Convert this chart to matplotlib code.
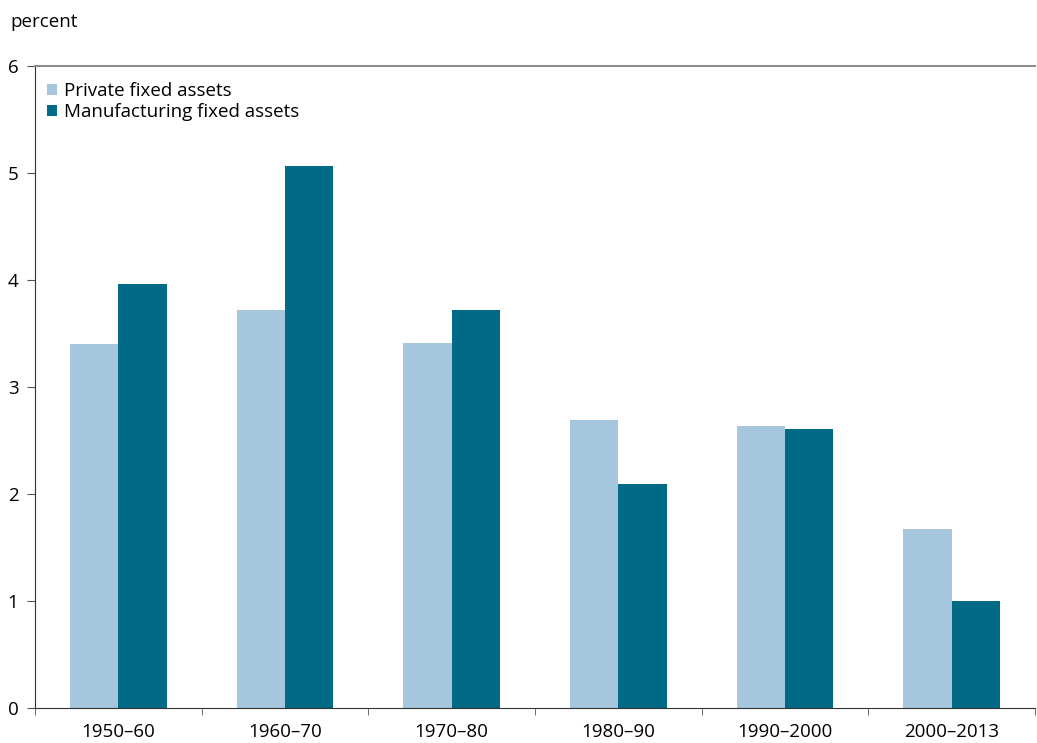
import numpy as np
import matplotlib.pyplot as plt

periods = ['1950–60', '1960–70', '1970–80', '1980–90', '1990–2000', '2000–2013']
private_assets = [3.40, 3.72, 3.41, 2.69, 2.64, 1.67]
manuf_assets = [3.96, 5.07, 3.72, 2.09, 2.61, 1.00]

light = '#a5c6dc'
dark = '#006a87'

plt.rcParams['font.family'] = ['Open Sans', 'DejaVu Sans']

fig = plt.figure(figsize=(10.37, 7.43), dpi=100)
ax = fig.add_axes([35/1037, 35/743, 1000/1037, 642/743])

x = np.arange(len(periods))
w = 0.29
ax.bar(x - w/2, private_assets, w, color=light, label='Private fixed assets')
ax.bar(x + w/2, manuf_assets, w, color=dark, label='Manufacturing fixed assets')

ax.set_xlim(-0.5, len(periods) - 0.5)
ax.set_ylim(0, 6)
ax.set_yticks(range(7))
ax.set_xticks(x)
ax.set_xticklabels(periods)
ax.set_xticks(np.arange(len(periods) + 1) - 0.5, minor=True)
ax.tick_params(axis='x', which='major', length=0, pad=11, labelsize=13.5)
ax.tick_params(axis='x', which='minor', length=5, color='#555555', direction='out')
ax.tick_params(axis='y', length=6, labelsize=13.5, pad=6, color='#555555')

ax.spines['right'].set_visible(False)
ax.spines['top'].set_color('#8c8c8c')
ax.spines['top'].set_linewidth(1.5)
ax.spines['left'].set_color('#333333')
ax.spines['bottom'].set_color('#333333')

ax.legend(loc='upper left', frameon=False, fontsize=13.5, handlelength=0.55,
          handleheight=0.55, handletextpad=0.35, labelspacing=0.15,
          borderaxespad=0.3, bbox_to_anchor=(-0.001, 0.995))

fig.text(10/1037, 1 - 22/743, 'percent', fontsize=13.5, va='center', ha='left')

fig.savefig('out.png', dpi=100)
